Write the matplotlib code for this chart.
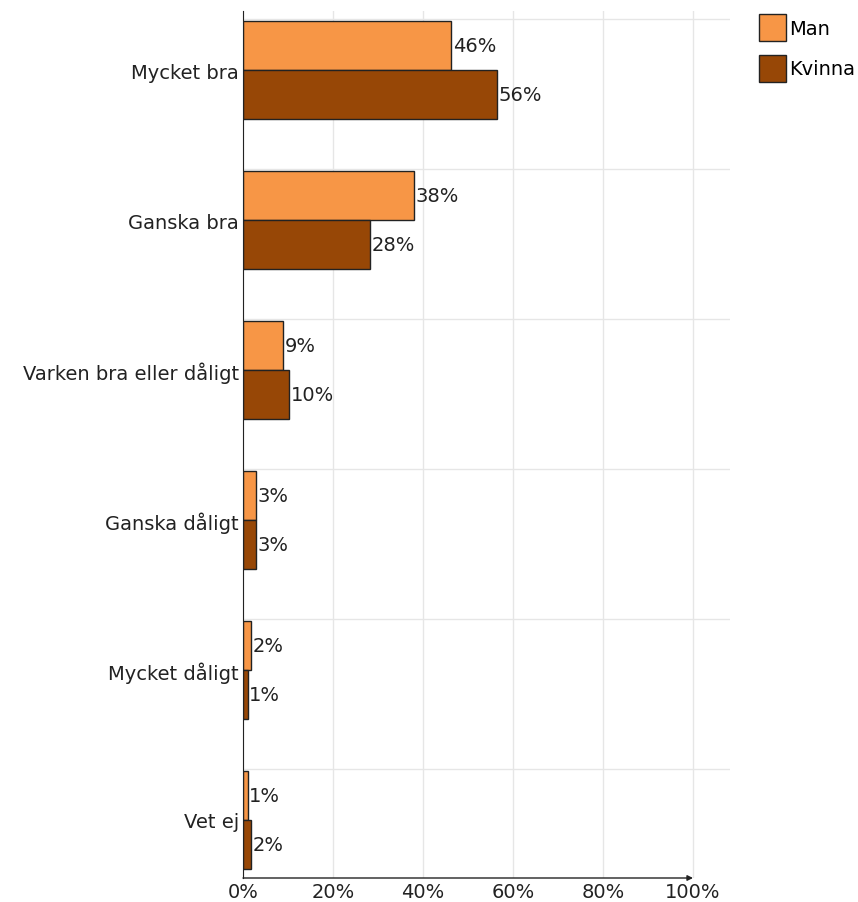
import numpy as np
import matplotlib.pyplot as plt

categories = ["Mycket bra", "Ganska bra", "Varken bra eller dåligt",
              "Ganska dåligt", "Mycket dåligt", "Vet ej"]
man = [46.3, 37.9, 8.9, 2.9, 1.8, 1.0]
kvinna = [56.4, 28.2, 10.2, 2.9, 1.0, 1.8]
series = ["Man", "Kvinna"]
colors = ["#F79646", "#974706"]
xticks = [0, 20, 40, 60, 80, 100]

plt.rcParams['font.family'] = ['DejaVu Sans']
FS = 14

fig = plt.figure(figsize=(8.58, 9.03), dpi=100)
W, H = 858, 903
ax = fig.add_axes([243 / W, (H - 879) / H, (730 - 243) / W, (879 - 12) / H])

y = np.arange(len(categories))
bh = 0.327
for k, (vals, col, name) in enumerate(zip([man, kvinna], colors, series)):
    yy = y + 0.013 + k * bh
    ax.barh(yy, vals, height=bh, align="edge", color=col,
            edgecolor="#222222", linewidth=1, label=name, zorder=3)
    for yi, v in zip(yy, vals):
        ax.text(v + 0.4, yi + bh / 2, "%d%%" % round(v), va="center",
                ha="left", fontsize=FS, color="#222222", zorder=4)

ax.set_xlim(0, 487 / 4.5)
ax.set_ylim((879 - 20) / 150, -8 / 150)
ax.set_yticks(y + 0.013 + bh)
ax.set_yticklabels(categories, fontsize=FS)
ax.set_xticks(xticks)
ax.set_xticklabels(["%d%%" % t for t in xticks], fontsize=FS)
ax.tick_params(length=0, pad=3, colors="#222222")

# gridlines
for t in xticks:
    ax.axvline(t, color="#e6e6e6", lw=1, zorder=0)
for yi in y:
    ax.axhline(yi, color="#e6e6e6", lw=1, zorder=0)

for s in ["top", "right", "bottom"]:
    ax.spines[s].set_visible(False)
ax.spines["left"].set_color("#222222")
ax.spines["left"].set_zorder(5)

# x axis with arrow
ax.annotate("", xy=(100, 0), xycoords=("data", "axes fraction"),
            xytext=(0, 0), textcoords=("data", "axes fraction"),
            arrowprops=dict(arrowstyle="-|>", color="#222222", lw=1,
                            mutation_scale=8, shrinkA=0, shrinkB=0),
            annotation_clip=False)

handles, labels = ax.get_legend_handles_labels()
fig.legend(handles, labels, loc="upper left",
           bbox_to_anchor=(759 / W, 1 - 15 / H), frameon=False,
           borderpad=0, borderaxespad=0,
           handlelength=1.4, handleheight=1.76, handletextpad=0.15,
           labelspacing=0.7, fontsize=FS)

fig.savefig("out.png", dpi=100)
